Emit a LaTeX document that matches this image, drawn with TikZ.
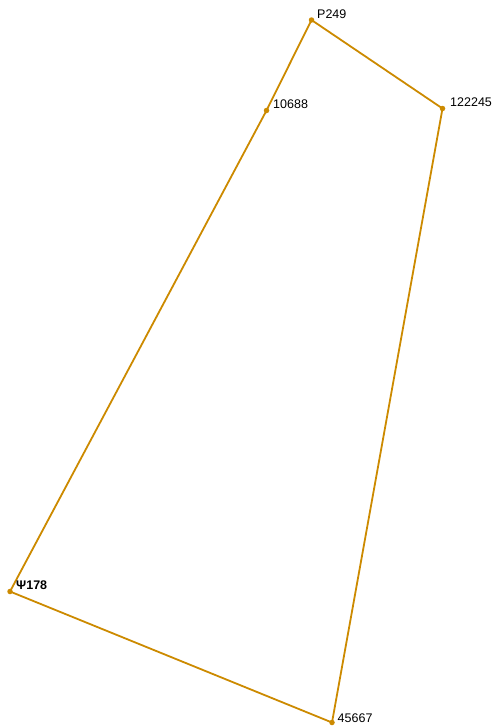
\documentclass[tikz,border=0pt]{standalone}
\usepackage{fontspec}
\setmainfont{Liberation Sans}
\definecolor{edgec}{HTML}{CC8A00}
\begin{document}
\begin{tikzpicture}[x=1pt,y=-1pt,
  pt/.style={circle,fill=edgec,inner sep=0pt,minimum size=5.5pt},
  lab/.style={anchor=west,inner sep=0pt,font=\fontsize{12.5}{14}\selectfont},
  edge/.style={draw=edgec,line width=1.8pt}]
\useasboundingbox (0,0) rectangle (497,728);
\node[pt] (p) at (311.5,20) {};
\node[pt] (a) at (266.5,110.5) {};
\node[pt] (b) at (442.5,108.5) {};
\node[pt] (c) at (10,591.5) {};
\node[pt] (d) at (332,722.5) {};
\draw[edge] (p.center) -- (a.center) -- (c.center) -- (d.center) -- (b.center) -- (p.center);
\node[lab] (lp) at (317,14) {P249};
\node[lab] (la) at (273,104.5) {10688};
\node[lab] (lb) at (450,102.5) {122245};
\node[lab,font=\fontsize{12.5}{14}\selectfont\bfseries] (lc) at (16,585) {Ψ178};
\node[lab] (ld) at (337.5,718) {45667};
\end{tikzpicture}
\end{document}
